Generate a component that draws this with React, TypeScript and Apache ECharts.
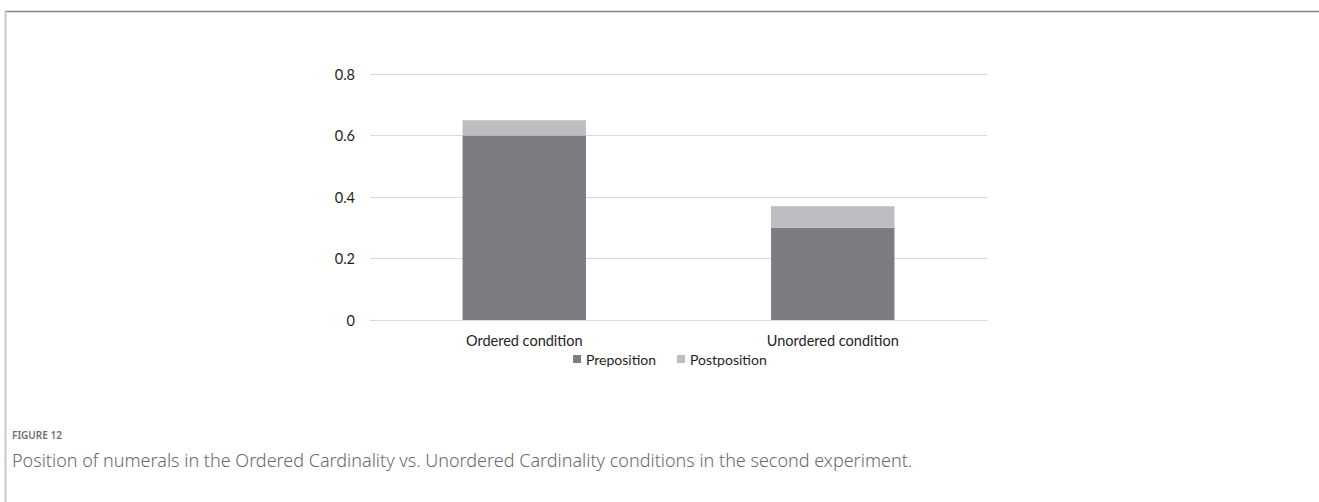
import React, { useEffect, useRef } from "react";
import * as echarts from "echarts";

const categories = ["Ordered condition", "Unordered condition"];
const preposition = [0.6, 0.3];
const postposition = [0.05, 0.07];
const yTicks = [0, 0.2, 0.4, 0.6, 0.8];
const figureLabel = "FIGURE 12";
const caption =
  "Position of numerals in the Ordered Cardinality vs. Unordered Cardinality conditions in the second experiment.";

export default function App() {
  const ref = useRef<HTMLDivElement>(null);
  useEffect(() => {
    if (!ref.current) return;
    const chart = echarts.init(ref.current, undefined, { renderer: "svg" });
    chart.setOption({
      animation: false,
      backgroundColor: "#ffffff",
      textStyle: { fontFamily: "Lato" },
      grid: { left: 370, right: 332, top: 74, bottom: 182, containLabel: false },
      xAxis: {
        type: "category",
        data: categories,
        axisLine: { show: true, lineStyle: { color: "#d9d9d9", width: 1 } },
        axisTick: { show: false },
        axisLabel: { color: "#1e1e1e", fontSize: 14.5, margin: 13, fontFamily: "Lato" },
      },
      yAxis: {
        type: "value",
        min: yTicks[0],
        max: yTicks[yTicks.length - 1],
        interval: 0.2,
        axisLine: { show: false },
        axisTick: { show: false },
        splitLine: { lineStyle: { color: "#d9d9d9", width: 1 } },
        axisLabel: {
          color: "#1e1e1e",
          fontSize: 14.5,
          margin: 15,
          fontFamily: "Lato",
          formatter: (v: number) => (v === 0 ? "0" : String(Math.round(v * 10) / 10)),
        },
      },
      legend: {
        data: ["Preposition", "Postposition"],
        left: 568,
        top: 347,
        itemWidth: 8,
        itemHeight: 8,
        itemGap: 21,
        icon: "rect",
        textStyle: { color: "#1e1e1e", fontSize: 14, fontFamily: "Lato" },
      },
      series: [
        {
          name: "Preposition",
          type: "bar",
          stack: "total",
          data: preposition,
          barWidth: "40%",
          itemStyle: { color: "#7c7d80" },
        },
        {
          name: "Postposition",
          type: "bar",
          stack: "total",
          data: postposition,
          barWidth: "40%",
          itemStyle: { color: "#bcbdc0" },
        },
      ],
      graphic: [
        { type: "line", shape: { x1: 5, y1: 11.5, x2: 1319, y2: 11.5 }, style: { stroke: "#808080", lineWidth: 1.5 } },
        { type: "line", shape: { x1: 5.5, y1: 11, x2: 5.5, y2: 502 }, style: { stroke: "#c8c8c8", lineWidth: 2 } },
        {
          type: "text",
          x: 12,
          y: 435,
          style: {
            text: figureLabel,
            fill: "#707070",
            fontSize: 10,
            fontFamily: "Noto Sans",
            fontWeight: 600,
            verticalAlign: "middle",
          },
        },
        {
          type: "text",
          x: 12,
          y: 460,
          style: {
            text: caption,
            fill: "#6a6a6a",
            fontSize: 18,
            fontFamily: "Noto Sans",
            fontWeight: 300,
            verticalAlign: "middle",
          },
        },
      ],
    });
    return () => chart.dispose();
  }, []);
  return (
    <div
      ref={ref}
      style={{ position: "fixed", left: 0, top: 0, width: 1319, height: 502 }}
    />
  );
}
